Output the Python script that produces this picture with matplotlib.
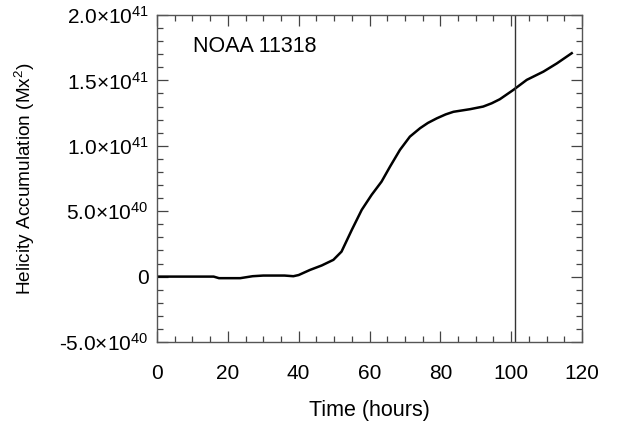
import matplotlib
matplotlib.use("Agg")
import matplotlib.pyplot as plt
from matplotlib.ticker import MultipleLocator, FixedLocator

plt.rcParams['font.family'] = ['Liberation Sans', 'DejaVu Sans']
plt.rcParams['mathtext.fontset'] = 'custom'
plt.rcParams['mathtext.rm'] = 'Liberation Sans'
plt.rcParams['mathtext.it'] = 'Liberation Sans'

# time (hours) and helicity accumulation (units of 1e40 Mx^2)
hours = [0, 16, 17.5, 23.5, 27, 30, 36, 38.5, 40, 43.2, 46.5, 49.8, 52.1,
         55.0, 57.8, 60.6, 63.4, 65.8, 68.6, 71.4, 74.3, 76.5, 79.0, 81.5,
         83.7, 88.4, 92.1, 94.5, 96.8, 100.6, 104.4, 109.1, 112.9, 117.1]
helicity = [0, 0, -0.12, -0.12, 0.03, 0.08, 0.08, 0.03, 0.12, 0.51, 0.85,
            1.28, 1.91, 3.57, 5.10, 6.25, 7.26, 8.41, 9.69, 10.7, 11.35,
            11.75, 12.1, 12.4, 12.6, 12.8, 13.0, 13.25, 13.56, 14.27, 15.04,
            15.67, 16.3, 17.08]
helicity = [v * 1e40 for v in helicity]

event_time = 101
ytick_vals = [-5e40, 0, 5e40, 1e41, 1.5e41, 2e41]
ytick_labels = [r'-5.0$\times$10$^{40}$', '0', r'5.0$\times$10$^{40}$',
                r'1.0$\times$10$^{41}$', r'1.5$\times$10$^{41}$',
                r'2.0$\times$10$^{41}$']
xtick_vals = [0, 20, 40, 60, 80, 100, 120]

fig = plt.figure(figsize=(6.24, 4.25), dpi=100)
ax = fig.add_axes([157 / 624, 1 - 342 / 425, (582 - 157) / 624, (342 - 15) / 425])

ax.plot(hours, helicity, color='black', lw=1.8)
ax.axvline(event_time, color='#333333', lw=1)

ax.set_xlim(0, 120)
ax.set_ylim(-5e40, 2e41)
ax.set_xticks(xtick_vals)
ax.xaxis.set_minor_locator(MultipleLocator(5))
ax.yaxis.set_major_locator(FixedLocator(ytick_vals))
ax.set_yticklabels(ytick_labels)
ax.yaxis.set_minor_locator(MultipleLocator(1e40))

ax.tick_params(which='both', direction='in', top=True, right=True,
               color='#444444', width=0.9)
ax.tick_params(which='major', length=8, labelsize=15)
ax.tick_params(axis='x', which='major', pad=16)
ax.tick_params(axis='y', which='major', pad=6)
ax.tick_params(which='minor', length=4)
for s in ax.spines.values():
    s.set_color('#555555')
    s.set_linewidth(1)

ax.set_xlabel('Time (hours)', fontsize=15.5, labelpad=12)
ax.set_ylabel(r'Helicity Accumulation (Mx$^2$)', fontsize=13.7, labelpad=16)
ax.text(0.085, 0.905, 'NOAA 11318', transform=ax.transAxes, fontsize=15.5,
        va='center', ha='left')

fig.savefig('out.png', dpi=100)
